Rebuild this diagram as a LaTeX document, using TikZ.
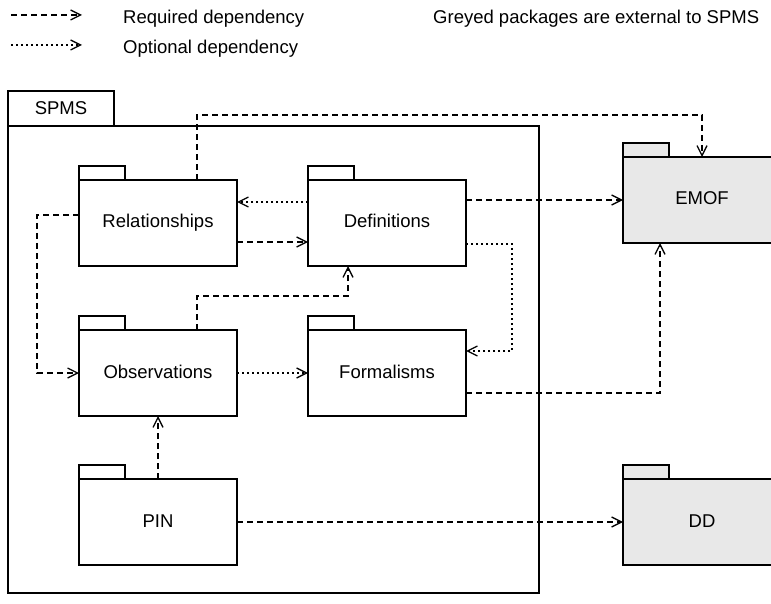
\documentclass[tikz,border=0pt]{standalone}
\usepackage{fontspec}
\setmainfont{Liberation Sans}
\usetikzlibrary{arrows.meta}
\definecolor{pkggrey}{HTML}{E8E8E8}
\begin{document}
\begin{tikzpicture}[x=1pt,y=-1pt,
  txt/.style={font=\fontsize{18.5}{22}\selectfont},
  pkgbox/.style={draw, line width=1.3pt, minimum width=158pt, minimum height=86pt,
    inner sep=0pt, outer sep=0pt, anchor=north west, txt, text height=12pt, text depth=2pt},
  pkgtab/.style={draw, line width=1.3pt, minimum width=46pt, minimum height=14pt,
    inner sep=0pt, outer sep=0pt, anchor=south west},
  tip/.style={-{Straight Barb[length=10pt,width=10pt,line width=1.3pt]}},
  req/.style={line width=1.3pt, dash pattern=on 6pt off 4pt, tip},
  opt/.style={line width=1.3pt, dash pattern=on 2pt off 3pt, tip},
  ext/.style={fill=pkggrey}]
\useasboundingbox (0,0) rectangle (771,604);
\clip (0,0) rectangle (771,604);

% legend
\coordinate (lreqa) at (11,15);
\coordinate (lreqb) at (82,15);
\coordinate (lopta) at (11,45);
\coordinate (loptb) at (82,45);
\draw[req] (lreqa) -- (lreqb);
\draw[opt] (lopta) -- (loptb);
\node[txt, anchor=base west, inner sep=0pt] (lreq) at (123,24) {Required dependency};
\node[txt, anchor=base west, inner sep=0pt] (lopt) at (123,54) {Optional dependency};
\node[txt, anchor=base west, inner sep=0pt] (lgrey) at (433,24) {Greyed packages are external to SPMS};

% SPMS container
\node[draw, line width=1.3pt, minimum width=531pt, minimum height=467pt, inner sep=0pt,
  outer sep=0pt, anchor=north west] (spms) at (8,126) {};
\node[draw, line width=1.3pt, minimum width=106pt, minimum height=35pt, inner sep=0pt,
  outer sep=0pt, anchor=south west, txt] (spmstab) at (spms.north west) {SPMS};

% packages
\node[pkgbox] (rel) at (79,180) {Relationships};
\node[pkgtab] (reltab) at (rel.north west) {};
\node[pkgbox] (def) at (308,180) {Definitions};
\node[pkgtab] (deftab) at (def.north west) {};
\node[pkgbox] (obs) at (79,330) {Observations};
\node[pkgtab] (obstab) at (obs.north west) {};
\node[pkgbox] (form) at (308,330) {Formalisms};
\node[pkgtab] (formtab) at (form.north west) {};
\node[pkgbox] (pin) at (79,479) {PIN};
\node[pkgtab] (pintab) at (pin.north west) {};
\node[pkgbox, ext] (emof) at (623,157) {EMOF};
\node[pkgtab, ext] (emoftab) at (emof.north west) {};
\node[pkgbox, ext] (dd) at (623,479) {DD};
\node[pkgtab, ext] (ddtab) at (dd.north west) {};

% connectors
\draw[req] ([xshift=39pt]rel.north) |- (702,115) -- (emof.north);
\draw[opt] ([yshift=21pt]def.west) -- ([yshift=21pt]rel.east);
\draw[req] ([yshift=-19pt]rel.east) -- ([yshift=-19pt]def.west);
\draw[req] (emof.west -| def.east) -- (emof.west);
\draw[opt] ([yshift=-21pt]def.east) -- (512,244) -- (512,351) -- ([yshift=22pt]form.east);
\draw[req] ([yshift=8pt]rel.west) -- (37,215) |- (obs.west);
\draw[req] ([xshift=39pt]obs.north) |- (348,296) -- ([xshift=-39pt]def.south);
\draw[opt] (obs.east) -- (form.west);
\draw[req] ([yshift=-20pt]form.east) -| ([xshift=-42pt]emof.south);
\draw[req] (pin.north) -- (obs.south);
\draw[req] (pin.east) -- (dd.west);
\end{tikzpicture}
\end{document}
